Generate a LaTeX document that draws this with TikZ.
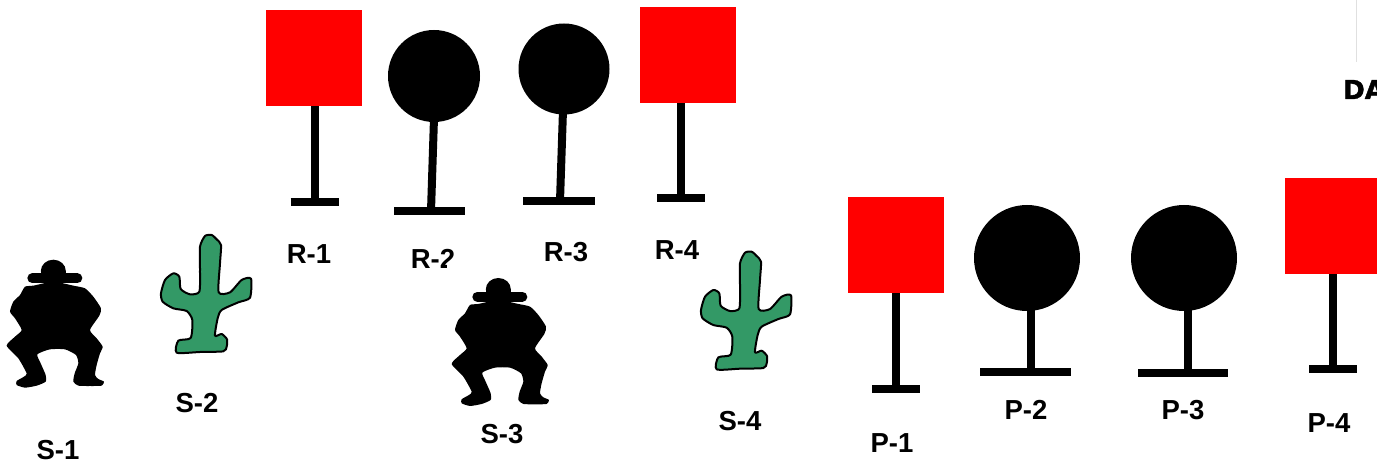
\documentclass[tikz,border=0pt]{standalone}
\usepackage{fontspec}
\setmainfont{Liberation Sans}
\newfontfamily\heavyfont[FakeBold=1.5]{DejaVu Sans Bold}
\definecolor{cactusgreen}{HTML}{339966}
\definecolor{signred}{HTML}{FF0000}
\tikzset{
  x=1pt,y=-1pt,
  lab/.style={font=\fontsize{27.5}{28}\selectfont\bfseries,anchor=base,inner sep=0pt,text=black},
  post/.style={line width=8pt,draw=black},
  sign/.style={fill=signred,draw=none},
  disc/.style={fill=black,draw=none}
}
\newcommand{\cowboyfig}[1]{%
  \begin{scope}[shift={(#1)},x=0.33333pt,y=-0.33333pt]
    \draw[black,line width=10pt,line cap=round] (97,70) -- (232,70);
    \fill[black] (160,48) ellipse [x radius=12.5pt,y radius=11.3pt];
    \fill[black] (123,48) rectangle (197,72);
    \fill[black] plot[smooth cycle,tension=0.35] coordinates {
      (75,95)(100,92)(160,80)(220,92)(255,100)(280,125)(303,160)(298,182)(270,225)(290,250)(308,275)(300,295)
      (290,330)(285,360)(295,372)(312,380)(305,392)(270,393)(235,392)(220,380)(224,355)(235,325)(228,300)
      (195,283)(150,283)(112,298)(122,325)(137,360)(137,380)(110,392)(75,398)(50,390)(50,378)(72,365)
      (80,355)(55,310)(20,272)(45,245)(65,225)(45,190)(30,170)(40,140)(60,120)};
  \end{scope}}
\newcommand{\cactusfig}[1]{%
  \begin{scope}[shift={(#1)},x=0.33333pt,y=-0.33333pt]
    \draw[line width=2pt,fill=cactusgreen,line join=round] plot[smooth cycle,tension=0.4] coordinates {
      (150,50)(165,18)(185,15)(200,28)(213,45)(210,100)(206,187)(240,187)(275,150)(303,146)(300,203)
      (265,217)(215,240)(203,265)(195,317)(215,312)(231,328)(230,350)(220,364)(150,366)(80,368)(85,332)
      (122,324)(127,270)(110,243)(70,235)(38,215)(33,190)(45,150)(70,130)(88,140)(92,177)(120,193)(148,185)(150,120)};
  \end{scope}}
\begin{document}
\begin{tikzpicture}
\useasboundingbox (0,0) rectangle (1377,462);
\clip (0,0) rectangle (1377,462);
% posts
\draw[post] (314.5,104) -- (314.5,202); \draw[post] (290.5,202) -- (338.5,202);
\draw[post] (434,118) -- (431,211); \draw[post] (394,211) -- (465,211);
\draw[post] (563,110) -- (560,201); \draw[post] (523,201) -- (595,201);
\draw[post] (681,100) -- (681,198); \draw[post] (657,198) -- (705,198);
\draw[post] (896,290) -- (896,389); \draw[post] (872,389) -- (920,389);
\draw[post] (1030.5,308) -- (1030.5,372); \draw[post] (980,372) -- (1071,372);
\draw[post] (1188,308) -- (1188,373); \draw[post] (1138,373) -- (1228,373);
\draw[post] (1333,270) -- (1333,369); \draw[post] (1309,369) -- (1357,369);
% heads
\fill[sign] (266,10) rectangle (362,106);
\fill[disc] (434,76) circle [radius=46pt];
\fill[disc] (564,69) circle [radius=45.5pt];
\fill[sign] (640,7) rectangle (736,103);
\fill[sign] (848,197) rectangle (944,293);
\fill[disc] (1027,258) circle [radius=53pt];
\fill[disc] (1184,258) circle [radius=53pt];
\fill[sign] (1285,178) rectangle (1381,274);
% figures
\cowboyfig{0,255}
\cactusfig{150,230}
\cowboyfig{445,273.3}
\cactusfig{690,246.7}
% labels
\node[lab] (r1) at (309,264) {R-1};
\node[lab] (r2) at (433,269) {R-2};
\fill[white] (447,263) rectangle (470,276);
\node[lab] (r3) at (566,262) {R-3};
\node[lab] (r4) at (677,260) {R-4};
\node[lab] (s1) at (58,459) {S-1};
\node[lab] (s2) at (197,413) {S-2};
\node[lab] (s3) at (502,443) {S-3};
\node[lab] (s4) at (740,430) {S-4};
\node[lab] (p1) at (892,452) {P-1};
\node[lab] (p2) at (1026,419) {P-2};
\node[lab] (p3) at (1183,420) {P-3};
\node[lab] (p4) at (1329,432) {P-4};
\draw[black!12,line width=0.8pt] (1356.5,0) -- (1356.5,62);
\node[lab,anchor=base west,font=\fontsize{26}{28}\selectfont\heavyfont] (da) at (1343,99) {DA};
\end{tikzpicture}
\end{document}
